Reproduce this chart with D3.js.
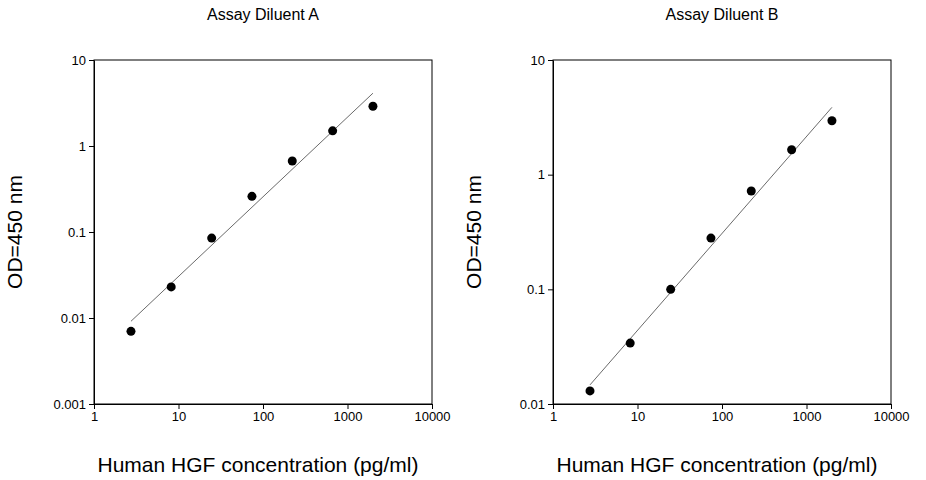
<!DOCTYPE html>
<html><head><meta charset="utf-8">
<script src="https://cdn.jsdelivr.net/npm/d3@7"></script>
<style>body{margin:0;background:#fff}text{font-family:"Liberation Sans",Arial,sans-serif}</style>
</head><body>
<svg id="c" width="926" height="480"></svg>
<script>
// standard concentrations (pg/ml), 3-fold dilution
var conc = [2.74, 8.2, 24.7, 74, 222, 667, 2000];
var odA = [0.007, 0.023, 0.085, 0.26, 0.67, 1.5, 2.9];
var odB = [0.013, 0.034, 0.1, 0.28, 0.72, 1.65, 2.95];
var xTicks = [1, 10, 100, 1000, 10000];
var yTicksA = [0.001, 0.01, 0.1, 1, 10];
var yTicksB = [0.01, 0.1, 1, 10];

var svg = d3.select("#c");

function fit(xs, ys) {
  var lx = xs.map(Math.log10), ly = ys.map(Math.log10);
  var mx = d3.mean(lx), my = d3.mean(ly);
  var b = d3.sum(lx, (v, i) => (v - mx) * (ly[i] - my)) / d3.sum(lx, v => (v - mx) * (v - mx));
  return x => Math.pow(10, my + b * (Math.log10(x) - mx));
}

function panel(left, title, ys, yTicks) {
  var w = 338, h = 344, top = 60;
  var g = svg.append("g").attr("transform", "translate(" + left + "," + top + ")");
  var x = d3.scaleLog().domain([1, 10000]).range([0, w]);
  var y = d3.scaleLog().domain([yTicks[0], 10]).range([h, 0]);

  g.append("g").attr("transform", "translate(0," + h + ")")
    .call(d3.axisBottom(x).tickValues(xTicks).tickFormat(d3.format("")).tickSizeInner(5).tickSizeOuter(0));
  g.append("g").call(d3.axisLeft(y).tickValues(yTicks).tickFormat(d => String(d)).tickSizeInner(5).tickSizeOuter(0));
  g.selectAll(".tick text").attr("font-size", 13).attr("fill", "#000");
  g.selectAll(".domain,.tick line").attr("stroke", "#000");
  g.append("rect").attr("width", w).attr("height", h).attr("fill", "none").attr("stroke", "#000");

  var f = fit(conc, ys);
  var xr = [2.74, 2000];
  g.append("line").attr("x1", x(xr[0])).attr("y1", y(f(xr[0])))
    .attr("x2", x(xr[1])).attr("y2", y(f(xr[1]))).attr("stroke", "#444").attr("stroke-width", 0.8);

  g.selectAll("circle").data(conc).join("circle")
    .attr("cx", d => x(d)).attr("cy", (d, i) => y(ys[i])).attr("r", 4.5).attr("fill", "#000");

  svg.append("text").attr("x", left + w / 2).attr("y", 20).attr("text-anchor", "middle")
    .attr("font-size", 16).text(title);
  svg.append("text").attr("x", left + w / 2 - 5).attr("y", 472).attr("text-anchor", "middle")
    .attr("font-size", 21).text("Human HGF concentration (pg/ml)");
  svg.append("text").attr("transform", "translate(" + (left - 72) + "," + (top + h / 2) + ") rotate(-90)")
    .attr("text-anchor", "middle").attr("font-size", 21).text("OD=450 nm");
}

panel(94, "Assay Diluent A", odA, yTicksA);
panel(553, "Assay Diluent B", odB, yTicksB);
</script>
</body></html>
